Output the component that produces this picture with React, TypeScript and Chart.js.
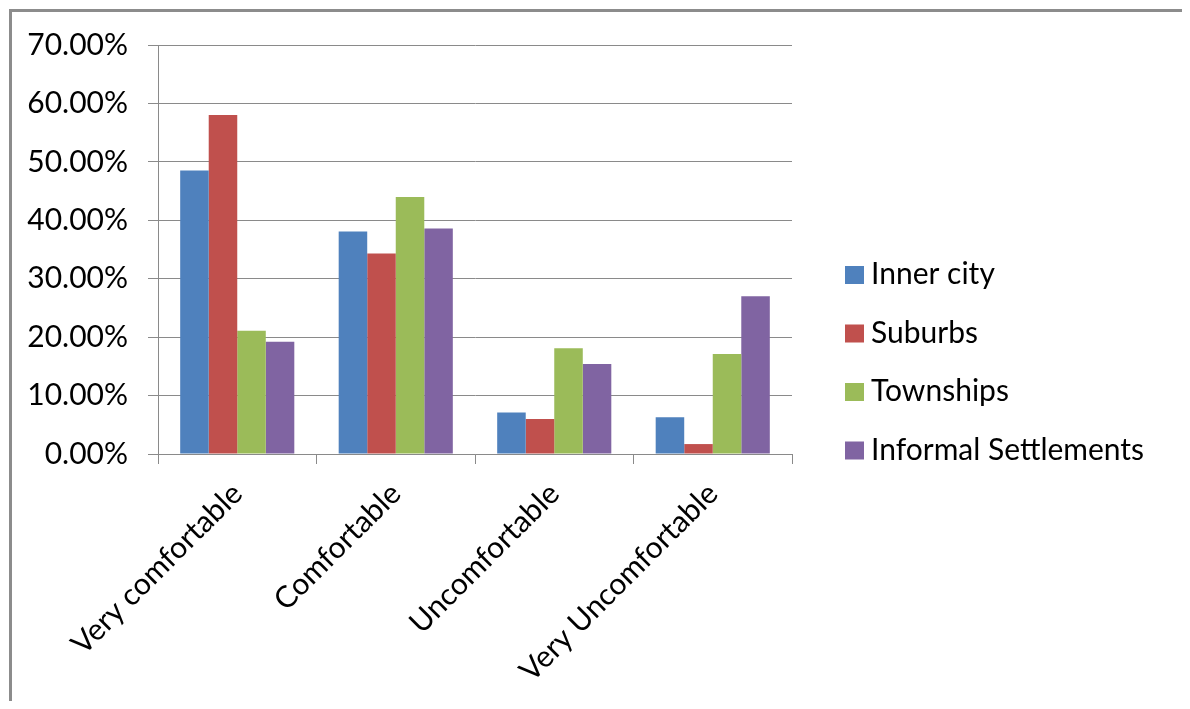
import { useEffect, useRef } from "react";
import { Chart, registerables } from "chart.js";

Chart.register(...registerables);

const categories = ["Very comfortable", "Comfortable", "Uncomfortable", "Very Uncomfortable"];
const seriesNames = ["Inner city", "Suburbs", "Townships", "Informal Settlements"];
const innerCity = [48.5, 38.1, 7.1, 6.3];
const suburbs = [58.0, 34.3, 6.0, 1.7];
const townships = [21.1, 44.0, 18.1, 17.1];
const informalSettlements = [19.2, 38.6, 15.4, 27.0];
const seriesColors = ["#4F81BD", "#C0504D", "#9BBB59", "#8064A2"];
const yTickValues = [0, 10, 20, 30, 40, 50, 60, 70];

const FONT = "Lato, 'Open Sans', sans-serif";
const FONT_SIZE = 30;
const GRID = "#8a8a8a";

// Legend drawn to the right of the plot, one swatch and label per series.
const sideLegend = {
  id: "sideLegend",
  afterDraw(chart: any) {
    const { ctx, chartArea } = chart;
    ctx.save();
    ctx.font = `${FONT_SIZE}px ${FONT}`;
    ctx.textBaseline = "alphabetic";
    ctx.textAlign = "left";
    chart.data.datasets.forEach((ds: any, i: number) => {
      const cy = chartArea.top + 230 + i * 58.5;
      const bx = chartArea.right + 53;
      ctx.fillStyle = ds.backgroundColor;
      ctx.fillRect(bx, cy - 9, 19, 18);
      ctx.fillStyle = "#000";
      ctx.fillText(ds.label, bx + 26, cy + 9);
    });
    ctx.restore();
  },
};

export default function App() {
  const canvasRef = useRef<HTMLCanvasElement | null>(null);

  useEffect(() => {
    if (!canvasRef.current) return;
    const values = [innerCity, suburbs, townships, informalSettlements];
    const chart = new Chart(canvasRef.current, {
      type: "bar",
      data: {
        labels: categories,
        datasets: seriesNames.map((name, i) => ({
          label: name,
          data: values[i],
          backgroundColor: seriesColors[i],
          borderWidth: 0,
          barPercentage: 1,
          categoryPercentage: 0.72,
        })),
      },
      options: {
        animation: false,
        responsive: true,
        maintainAspectRatio: false,
        layout: { padding: { top: 33, right: 391, left: 0, bottom: 0 } },
        plugins: {
          legend: { display: false },
          tooltip: { enabled: false },
        },
        scales: {
          x: {
            grid: {
              offset: true,
              drawOnChartArea: false,
              drawTicks: true,
              tickLength: 10,
              color: GRID,
            },
            border: { display: true, color: GRID, width: 1 },
            ticks: {
              maxRotation: 45,
              minRotation: 45,
              color: "#000",
              font: { family: FONT, size: FONT_SIZE },
              padding: 12,
            },
            afterFit(scale: any) {
              scale.height = 247;
            },
          },
          y: {
            min: 0,
            max: 70,
            afterBuildTicks(scale: any) {
              scale.ticks = yTickValues.map((v) => ({ value: v }));
            },
            grid: {
              color: GRID,
              drawTicks: true,
              tickLength: 10,
            },
            border: { display: true, color: GRID, width: 1 },
            ticks: {
              color: "#000",
              font: { family: FONT, size: FONT_SIZE },
              padding: 20,
              callback: (v: any) => Number(v).toFixed(2) + "%",
            },
            afterFit(scale: any) {
              scale.width = 146;
              scale.paddingTop = 0;
              scale.paddingBottom = 0;
            },
          },
        },
      },
      plugins: [sideLegend],
    });
    return () => chart.destroy();
  }, []);

  return (
    <div style={{ paddingTop: 1, paddingLeft: 1 }}>
      <div
        style={{
          width: 1171,
          height: 689,
          borderTop: "3px solid #8c8c8c",
          borderLeft: "3px solid #8c8c8c",
          borderRight: "3px solid #8c8c8c",
          background: "#fff",
        }}
      >
        <div style={{ position: "relative", width: 1171, height: 689 }}>
          <canvas ref={canvasRef} />
        </div>
      </div>
    </div>
  );
}
